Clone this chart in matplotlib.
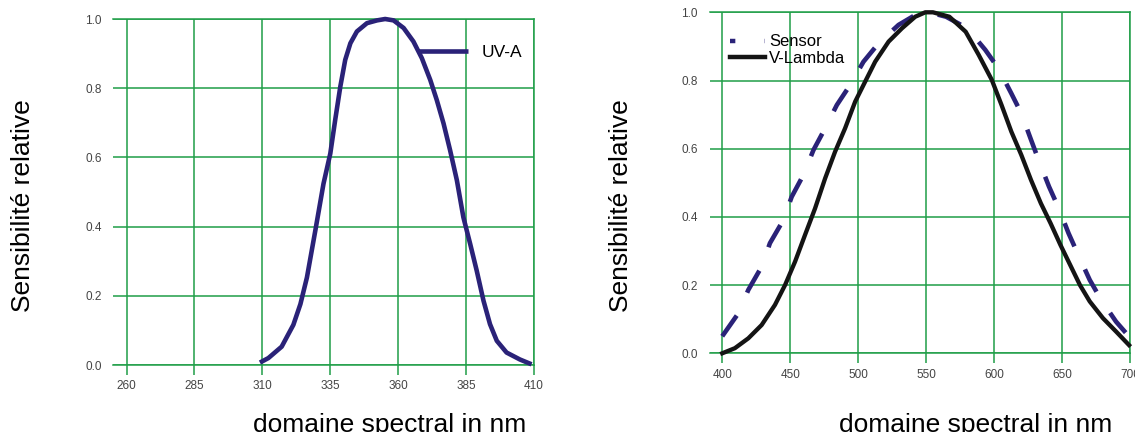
import matplotlib
matplotlib.use("Agg")
import matplotlib.pyplot as plt
from matplotlib.lines import Line2D

plt.rcParams['font.family'] = ['Liberation Sans', 'DejaVu Sans']

# --- left chart: UV-A sensor ---
uva_nm = [309.1, 312.2, 317.1, 321.4, 324.0, 326.4, 329.5, 332.5, 335.0, 336.8,
          338.7, 340.5, 342.4, 344.8, 348.5, 352.2, 355.2, 358.3, 362.0, 365.6,
          368.7, 371.8, 374.2, 376.7, 379.1, 381.6, 384.0, 386.5, 388.9, 391.4,
          393.8, 396.3, 399.9, 404.8, 409.1]
uva_val = [0.007, 0.02, 0.053, 0.116, 0.176, 0.253, 0.389, 0.524, 0.611, 0.708,
           0.805, 0.882, 0.930, 0.964, 0.988, 0.996, 1.0, 0.996, 0.974, 0.935,
           0.887, 0.824, 0.766, 0.698, 0.621, 0.534, 0.427, 0.350, 0.273, 0.186,
           0.118, 0.070, 0.036, 0.016, 0.002]
uva_xticks = [260, 285, 310, 335, 360, 385, 410]

# --- right chart: sensor vs V-Lambda ---
vl_nm = [400, 409.3, 419.2, 429.0, 438.8, 446.2, 453.6, 460.9, 468.3, 475.7,
         483.0, 490.4, 497.8, 505.2, 512.5, 522.4, 532.2, 542.0, 549.4, 555.0,
         567.1, 579.1, 588.7, 598.3, 605.5, 612.7, 620.0, 627.2, 634.4, 641.6,
         648.8, 656.0, 663.2, 670.4, 680.1, 689.7, 699.3]
vl_val = [0.0, 0.015, 0.044, 0.083, 0.142, 0.200, 0.269, 0.347, 0.425, 0.513,
          0.591, 0.660, 0.738, 0.797, 0.855, 0.914, 0.953, 0.987, 1.0, 1.0,
          0.987, 0.943, 0.875, 0.802, 0.728, 0.650, 0.582, 0.508, 0.440, 0.381,
          0.318, 0.259, 0.200, 0.152, 0.103, 0.064, 0.024]
sens_nm = [400, 411.8, 419.2, 429.0, 435.1, 445.0, 451.1, 459.7, 467.1, 475.7,
           484.3, 494.1, 503.9, 515.0, 529.7, 542.0, 552.0, 564.7, 580.3, 593.5,
           603.1, 612.7, 620.0, 627.2, 633.2, 640.4, 647.6, 654.8, 662.0, 670.4,
           678.9, 689.7, 700]
sens_val = [0.050, 0.117, 0.186, 0.254, 0.323, 0.391, 0.459, 0.523, 0.596, 0.660,
            0.728, 0.787, 0.855, 0.909, 0.963, 0.992, 1.0, 0.987, 0.953, 0.890,
            0.836, 0.762, 0.704, 0.626, 0.562, 0.489, 0.425, 0.352, 0.288, 0.215,
            0.156, 0.093, 0.046]
vis_xticks = [400, 450, 500, 550, 600, 650, 700]

yticks = [0.0, 0.2, 0.4, 0.6, 0.8, 1.0]

green = '#1f9e48'
navy = '#2a2278'
tick_col = '#444444'

fig = plt.figure(figsize=(11.35, 4.32), dpi=100)
ax1 = fig.add_axes([113/1135, 67/432, 421/1135, 346/432])
ax2 = fig.add_axes([710/1135, 78.7/432, 420/1135, 341/432])


def style(ax, xticks, xlim, ypad):
    ax.set_xlim(*xlim)
    ax.set_ylim(0, 1)
    ax.set_xticks(xticks)
    ax.set_yticks(yticks)
    ax.set_yticklabels(['%.1f' % v for v in yticks])
    for s in ax.spines.values():
        s.set_visible(False)
    ax.grid(True, color=green, linewidth=1.1)
    ax.set_axisbelow(True)
    ax.tick_params(axis='x', direction='out', length=7, width=1.1, color=green,
                   labelsize=8.5, labelcolor=tick_col, pad=4)
    ax.tick_params(axis='y', length=0, labelsize=8.5, labelcolor=tick_col, pad=ypad)
    # outer grid lines, kept visible at the edges
    ax.axhline(1.0, color=green, linewidth=1.1, zorder=0.5, clip_on=False)
    ax.axhline(0.0, color=green, linewidth=1.1, zorder=0.5, clip_on=False)
    ax.axvline(xlim[1], color=green, linewidth=1.1, zorder=0.5, clip_on=False)


style(ax1, uva_xticks, (255, 410), 8)
ax1.plot(uva_nm, uva_val, color=navy, linewidth=3.3, clip_on=False,
         solid_capstyle='butt', solid_joinstyle='round', label='UV-A')
ax1.legend(loc='center left', bbox_to_anchor=(0.7245, 0.9046), frameon=False,
           fontsize=12.5, handlelength=2.9, handletextpad=0.75, borderpad=0,
           borderaxespad=0)

style(ax2, vis_xticks, (391, 700), 9)
ax2.plot(sens_nm, sens_val, color=navy, linewidth=3.3, linestyle=(0, (5.5, 5.5)),
         dash_capstyle='butt', dash_joinstyle='round', clip_on=False)
ax2.plot(vl_nm, vl_val, color='#141414', linewidth=3.1, clip_on=False,
         solid_joinstyle='round')
handles = [Line2D([], [], color=navy, linewidth=3.2, linestyle=(0, (1.2, 6.6))),
           Line2D([], [], color='#141414', linewidth=3.2)]
ax2.legend(handles, ['Sensor', 'V-Lambda'], loc='upper left',
           bbox_to_anchor=(0.0476, 0.935), frameon=False, fontsize=12,
           handlelength=2.1, handletextpad=0.25, borderpad=0, borderaxespad=0,
           labelspacing=0.1)

fig.text(23/1135, 1 - 206/432, 'Sensibilité relative', rotation=90,
         fontsize=19, ha='center', va='center')
fig.text(621/1135, 1 - 206/432, 'Sensibilité relative', rotation=90,
         fontsize=19, ha='center', va='center')
fig.text(390/1135, 1 - 432/432, 'domaine spectral in nm', fontsize=19,
         ha='center', va='baseline')
fig.text(976/1135, 1 - 432/432, 'domaine spectral in nm', fontsize=19,
         ha='center', va='baseline')

fig.savefig('out.png', dpi=100)
